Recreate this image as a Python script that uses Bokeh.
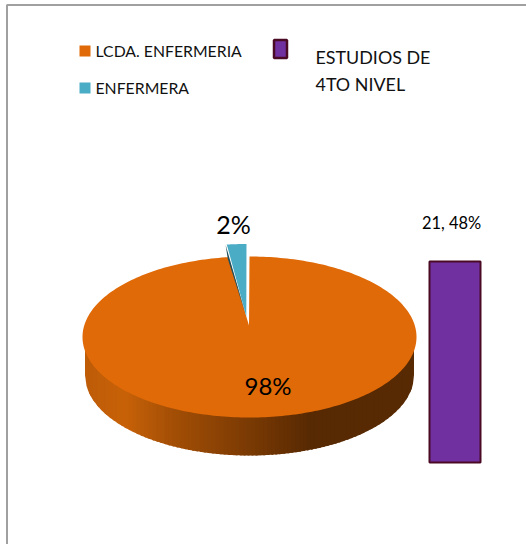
import numpy as np
from bokeh.embed import file_html
from bokeh.resources import INLINE
from bokeh.plotting import figure
from bokeh.models import Range1d
from bokeh.core.properties import value

categories = ["LCDA. ENFERMERIA", "ENFERMERA"]
shares = [98, 2]
pie_labels = ["98%", "2%"]
bar_name = ["ESTUDIOS DE", "4TO NIVEL"]
bar_values = [21]
bar_labels = ["21, 48%"]

ORANGE, BLUE, PURPLE = "#E16A08", "#4BACC6", "#7030A0"
W, H = 526, 544
p = figure(width=W, height=H, x_range=Range1d(0, W), y_range=Range1d(H, 0),
           output_backend="svg", toolbar_location=None, min_border=0,
           x_axis_type=None, y_axis_type=None, background_fill_color="white",
           border_fill_color="white", outline_line_color=None, margin=0)
p.grid.visible = False

# bar scale
PX = 201 / 21
p.extra_y_ranges["bar"] = Range1d(start=(462 - H) / PX, end=462 / PX)

# frame
p.line([6.5, 6.5, W], [H, 4.5, 4.5], line_color="#A0A0A0", line_width=2)

cx, cy, rx, ry, depth = 249, 336.5, 167, 80.5, 38
apex = (248.5, 325)

# side of the pie: strips with shading
stops_x = [84, 125, 170, 250, 310, 416]
stops_c = np.array([[190, 92, 8], [200, 98, 9], [165, 80, 6], [122, 58, 4], [88, 42, 3], [88, 42, 3]])
rb = rx - 2.5
edges = np.linspace(cx - rb, cx + rb, 84)
def low(x, yc, r):
    return yc + ry * np.sqrt(max(0, 1 - ((x - cx) / r) ** 2))
for a, b in zip(edges[:-1], edges[1:]):
    m = (a + b) / 2
    rgb = tuple(int(np.interp(m, stops_x, stops_c[:, i])) for i in range(3))
    xb = min(b + 2, cx + rb)
    sx = np.linspace(a, xb, 5)
    bottom = [low(v, cy + depth, rb) for v in sx]
    p.patch(list(sx) + [xb, a], bottom + [cy + 2, cy + 2], fill_color="#%02x%02x%02x" % rgb, line_color=None)

# orange slice, top face
sweep = 2 * np.pi * shares[0] / sum(shares)
t = np.linspace(0, sweep, 300)
ox = cx + rx * np.sin(t)
oy = cy - ry * np.cos(t)
p.patch(list(ox) + [apex[0]], list(oy) + [apex[1]], fill_color=ORANGE, line_color=None)

# blue exploded slice
bdx, bdy = -3, -12.5
t2 = np.linspace(sweep, 2 * np.pi, 30)
bx = cx + bdx + rx * np.sin(t2)
by = cy + bdy - ry * np.cos(t2)
bapex = (245.8, 316)
p.patch([bx[0], bx[0] + 2.2, bapex[0]], [by[0], by[0] + 14, bapex[1]], fill_color="#1F4E5C", line_color=None)
bx_face = bx.copy()
bx_face[0] += 1.3
p.patch(list(bx_face) + [bapex[0]], list(by) + [bapex[1]], fill_color=BLUE, line_color=None)

# bar
p.vbar(x=[454.5], top=bar_values, bottom=[0], width=51, y_range_name="bar",
       fill_color=PURPLE, line_color="#4A0A24", line_width=2)

def txt(x, y, s, size, color="#111111", align="left", font="Lato"):
    p.text([x], [y], text=[s], text_font=value(font), text_font_size=f"{size}px",
           text_color=color, text_baseline="alphabetic", text_align=align)

# legend
for yy, c, s in zip([50.5, 87.5], [ORANGE, BLUE], categories):
    p.quad(left=[79], right=[90], top=[yy - 5.5], bottom=[yy + 5.5], fill_color=c, line_color=None)
    txt(95, yy - 1, s, 15.8)
p.quad(left=[273.5], right=[286.5], top=[39.5], bottom=[57.5], fill_color=PURPLE, line_color="#4A0A24", line_width=2.5)
txt(315, 56, bar_name[0], 17.9)
txt(315, 83, bar_name[1], 17.9)

# labels
txt(233, 223, pie_labels[1], 25, "#000000", "center")
txt(267.5, 385, pie_labels[0], 24, "#000000", "center")
txt(451, 222, bar_labels[0], 16.4, "#000000", "center")

open("out.html", "w").write(file_html(p, INLINE))
